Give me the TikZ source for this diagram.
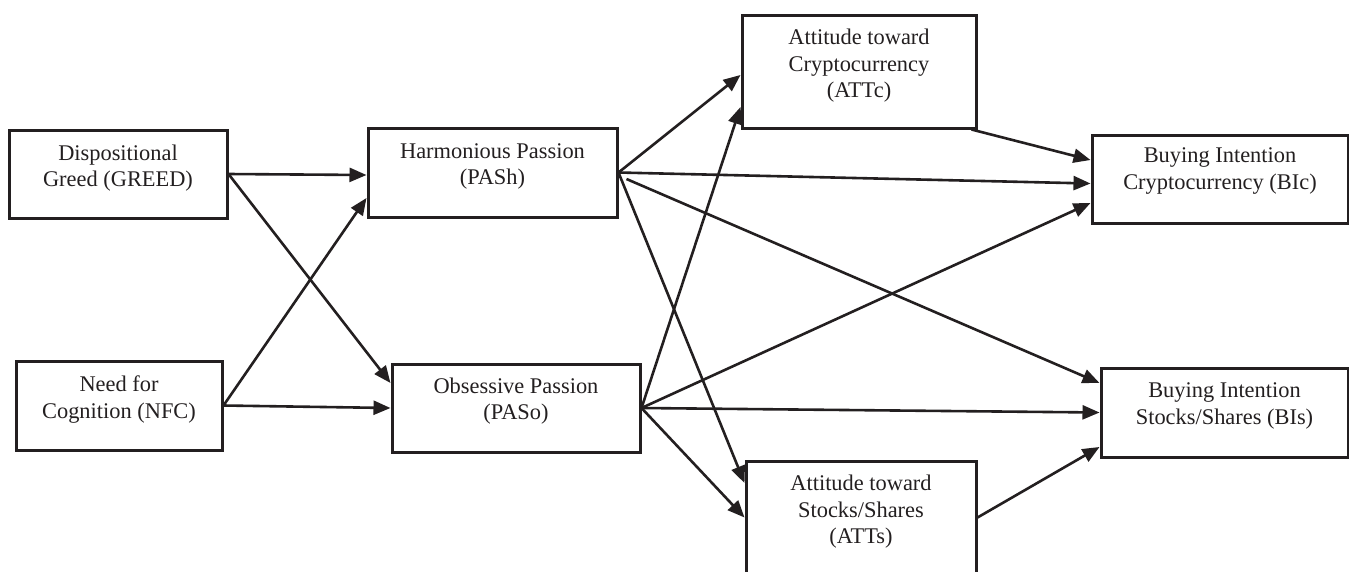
\documentclass[tikz,border=0pt]{standalone}
\usepackage{fontspec}
\setmainfont{Liberation Serif}
\usetikzlibrary{arrows.meta}
\definecolor{ink}{HTML}{231F20}
\tikzset{
  box/.style={draw=ink, line width=3pt, rectangle, inner sep=0pt},
  lbl/.style={text=ink, align=center, inner sep=0pt, font=\fontsize{22.4}{26.5}\selectfont},
  conn/.style={draw=ink, line width=2.6pt, -{Triangle[length=17pt,width=14pt]}}
}
\begin{document}
\begin{tikzpicture}[x=1pt,y=-1pt]
\useasboundingbox (0,0) rectangle (1349,571);
% boxes
\node[box, minimum width=218pt, minimum height=88pt] (greed) at (118,174) {};
\node[box, minimum width=206pt, minimum height=89pt] (nfc) at (119,405.5) {};
\node[box, minimum width=249pt, minimum height=89pt] (pash) at (492.5,172.5) {};
\node[box, minimum width=248pt, minimum height=88pt] (paso) at (516,408) {};
\node[box, minimum width=234pt, minimum height=113pt] (attc) at (859,71.5) {};
\node[box, minimum width=230pt, minimum height=113pt] (atts) at (861,517.5) {};
\node[box, minimum width=256pt, minimum height=88pt] (bic) at (1220,179) {};
\node[box, minimum width=247pt, minimum height=89pt] (bis) at (1224.5,412.5) {};
% labels
\node[lbl] (greedt) at ([yshift=6pt]greed.center) {Dispositional\\Greed (GREED)};
\node[lbl] (nfct) at ([yshift=6pt]nfc.center) {Need for\\Cognition (NFC)};
\node[lbl] (pasht) at ([yshift=6pt]pash.center) {Harmonious Passion\\(PASh)};
\node[lbl] (pasot) at ([yshift=7pt]paso.center) {Obsessive Passion\\(PASo)};
\node[lbl] (attct) at ([yshift=5.5pt]attc.center) {Attitude toward\\Cryptocurrency\\(ATTc)};
\node[lbl] (attst) at ([yshift=5.5pt]atts.center) {Attitude toward\\Stocks/Shares\\(ATTs)};
\node[lbl] (bict) at ([yshift=8pt]bic.center) {Buying Intention\\Cryptocurrency (BIc)};
\node[lbl] (bist) at ([yshift=6.5pt]bis.center) {Buying Intention\\Stocks/Shares (BIs)};
% connectors
\draw[conn] (greed.east) -- ([yshift=-2.5pt]pash.west);
\draw[conn] (greed.east) -- ([yshift=25pt]paso.west);
\draw[conn] (nfc.east) -- ([yshift=-25.5pt]pash.west);
\draw[conn] (nfc.east) -- (paso.west);
\draw[conn] (pash.east) -- ([yshift=-3.5pt]attc.west);
\draw[conn] (paso.east) -- ([yshift=-35.5pt]attc.west);
\draw[conn] (pash.east) -- ([yshift=34.5pt]atts.west);
\draw[conn] (paso.east) -- (atts.west);
\draw[conn] (pash.east) -- ([yshift=-4.5pt]bic.west);
\draw[conn] (paso.east) -- ([yshift=-24pt]bic.west);
\draw[conn] ([xshift=8pt,yshift=-6.5pt]pash.east) -- ([yshift=29.5pt]bis.west);
\draw[conn] (paso.east) -- (bis.west);
\draw[conn] ([xshift=-6pt]attc.south east) -- ([yshift=19pt]bic.west);
\draw[conn] (atts.east) -- ([yshift=-34.5pt]bis.west);
\end{tikzpicture}
\end{document}
